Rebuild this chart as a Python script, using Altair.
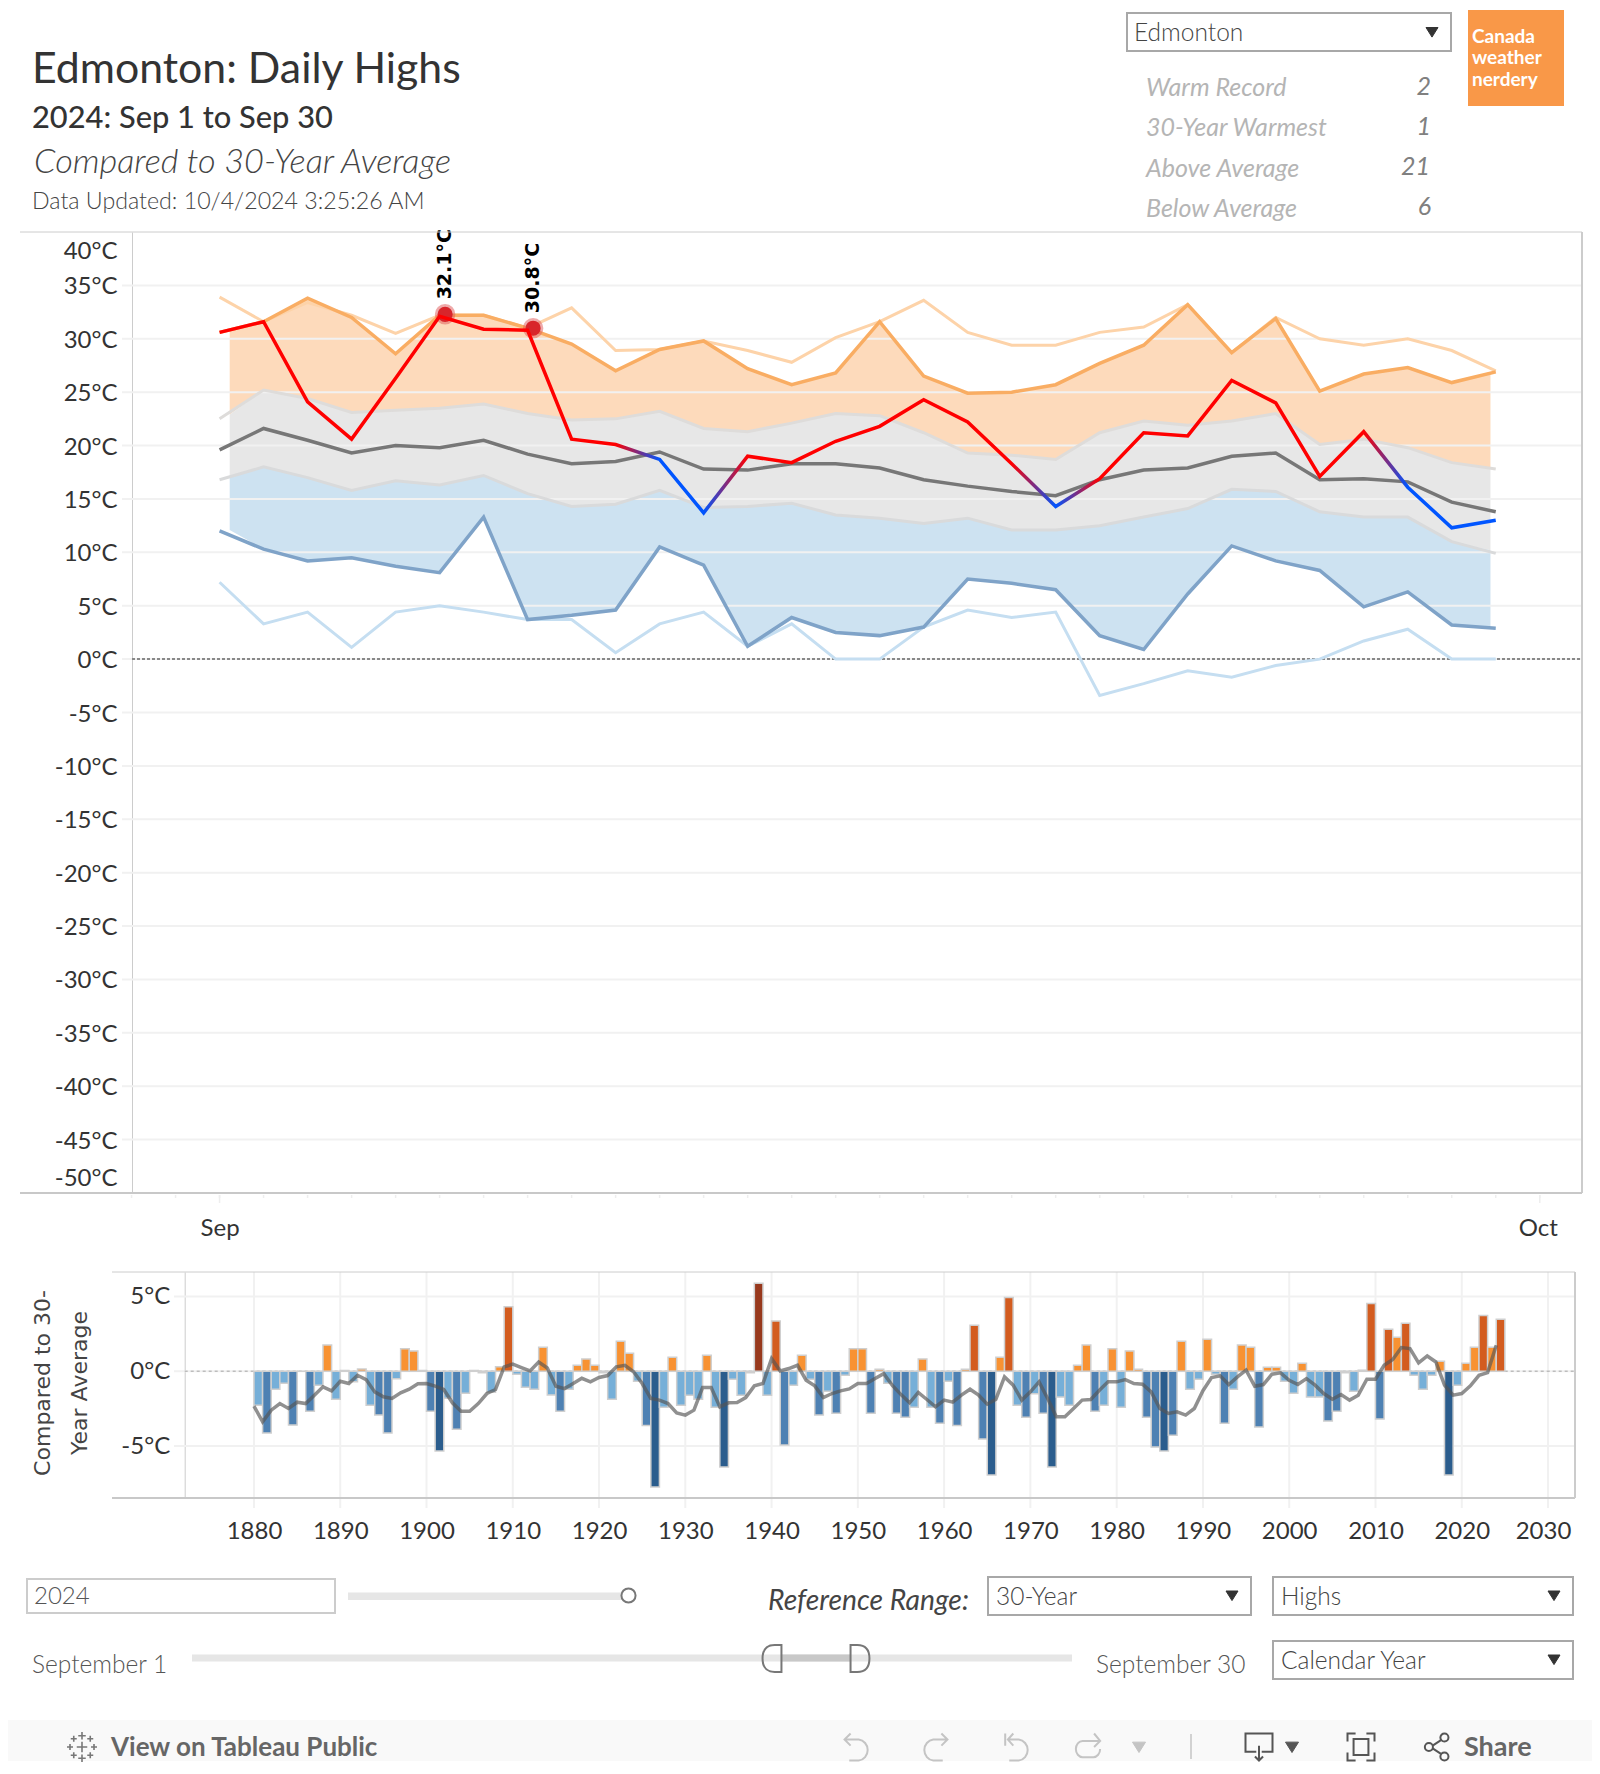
import altair as alt
import pandas as pd

# ---------- daily series (Sep 1..Sep 30), degrees C ----------
DAYS = list(range(1, 31))
RECORD_HIGH = [33.9,31.6,33.4,32.2,30.5,32.2,32.2,31.0,32.9,28.9,29.0,29.8,28.9,27.8,30.1,31.6,33.6,30.6,29.4,29.4,30.6,31.1,33.2,28.7,32.0,30.0,29.4,30.0,28.9,27.0]
MAX_30 = [30.6,31.6,33.8,32.0,28.6,32.2,32.2,31.0,29.5,27.0,29.0,29.8,27.2,25.7,26.8,31.6,26.5,24.9,25.0,25.7,27.7,29.4,33.2,28.7,31.9,25.1,26.7,27.3,25.9,26.9]
UPPER = [22.5,25.2,24.4,23.1,23.3,23.5,23.9,23.0,22.4,22.5,23.2,21.6,21.3,22.1,23.0,22.8,21.2,19.3,19.1,18.7,21.2,22.3,21.9,22.3,23.0,20.1,20.6,19.8,18.4,17.8]
AVERAGE = [19.6,21.6,20.5,19.3,20.0,19.8,20.5,19.2,18.3,18.5,19.4,17.8,17.7,18.3,18.3,17.9,16.8,16.2,15.7,15.3,16.8,17.7,17.9,19.0,19.3,16.8,16.9,16.6,14.7,13.8]
LOWER = [16.8,18.0,17.0,15.8,16.7,16.3,17.2,15.5,14.3,14.5,15.8,14.2,14.3,14.6,13.5,13.2,12.7,13.2,12.1,12.1,12.5,13.3,14.1,15.9,15.7,13.8,13.3,13.3,11.0,9.9]
MIN_30 = [12.0,10.3,9.2,9.5,8.7,8.1,13.3,3.7,4.1,4.6,10.5,8.8,1.2,3.9,2.5,2.2,3.0,7.5,7.1,6.5,2.2,0.9,6.1,10.6,9.2,8.3,4.9,6.3,3.2,2.9]
RECORD_LOW = [7.2,3.3,4.4,1.1,4.4,5.0,4.4,3.7,3.7,0.6,3.3,4.4,1.2,3.3,0,0,3.0,4.6,3.9,4.4,-3.4,-2.3,-1.1,-1.7,-0.6,0,1.7,2.8,0,0]
ACTUAL = [30.6,31.6,24.1,20.6,26.3,32.1,30.9,30.8,20.6,20.1,18.7,13.7,19.0,18.4,20.4,21.8,24.3,22.2,18.3,14.3,16.9,21.2,20.9,26.1,24.0,17.1,21.3,16.1,12.3,13.0]
RECORD_DAYS = [6, 8]
RECORD_VALUES = [32.1, 30.8]
RECORD_LABELS = ["32.1°C", "30.8°C"]

# reference bands stop a little inside the first and last day
BAND_DAYS = [1.23] + DAYS[1:-1] + [29.88]
BAND_TOP = [30.7] + MAX_30[1:-1] + [26.7]
BAND_UPPER = [22.9] + UPPER[1:-1] + [17.8]
BAND_LOWER = [17.1] + LOWER[1:-1] + [10.2]
BAND_BOTTOM = [12.1] + MIN_30[1:-1] + [3.0]

# ---------- yearly anomaly ----------
FIRST_YEAR = 1880
ANOMALY = [-2.27,-4.13,-1.2,-0.8,-3.6,0,-2.67,-0.93,1.75,-1.87,0.05,-0.7,0.15,-2.27,-2.93,-4.13,-0.5,1.5,1.36,0.05,
 -2.67,-5.33,-1.8,-3.87,-1.47,0.05,-0.1,-1.4,0.3,4.3,-0.2,-1.07,-1.2,1.6,-1.58,-2.67,-1.2,0.4,0.82,0.4,
 -0.1,-1.87,2.0,1.2,-0.67,-3.62,-7.73,-2.4,0.93,-2.27,-1.6,-1.87,1.07,-2.4,-6.4,-0.53,-1.6,-0.1,5.87,-1.6,
 3.36,-4.93,-0.93,1.07,-0.53,-2.93,-1.33,-2.8,-0.27,1.5,1.5,-2.8,0.13,-0.8,-2.8,-3.07,-2.4,0.82,-2.4,-3.47,
 -0.67,-3.62,0.13,3.07,-4.53,-6.93,0.93,4.93,-2.27,-3.07,-1.5,-2.8,-6.4,-1.73,-2.27,0.4,1.75,-2.67,-2.27,1.5,
 -2.4,1.36,0.13,-3.07,-5.07,-5.33,-4.27,2.0,-1.2,-0.53,2.13,-0.2,-3.47,-1.2,1.75,1.6,-3.73,0.27,0.27,-0.67,
 -1.47,0.53,-1.73,-1.73,-3.33,-2.67,-0.1,-1.33,0.07,4.53,-3.2,2.8,2.27,3.2,-0.27,-1.2,-0.27,0.67,-6.93,-0.93,
 0.53,1.6,3.73,1.6,3.47]
SMOOTH = [-2.33,-3.38,-2.6,-2.16,-2.49,-2.07,-2.16,-1.6,-1.04,-1.31,-0.67,-0.82,-0.27,-0.56,-1.38,-1.71,-1.82,-1.44,-1.2,-0.84,
 -0.82,-1.0,-1.22,-2.11,-2.67,-2.67,-2.16,-1.49,-1.22,0.29,0.47,0.24,0.02,0.62,0.22,-1.0,-1.16,-0.82,-0.47,-0.71,
 -0.42,-0.29,0.29,0.4,-0.04,-0.82,-1.82,-1.93,-2.16,-2.78,-2.93,-2.6,-1.09,-1.09,-2.38,-2.11,-2.09,-1.76,-0.98,-0.82,
 0.84,0.02,0.18,0.4,-0.6,-0.98,-1.76,-1.49,-1.31,-1.18,-0.82,-0.82,-0.49,-0.16,-0.95,-1.56,-2.11,-1.42,-1.89,-2.38,
 -1.93,-2.07,-1.6,-1.2,-1.6,-2.2,-1.87,-0.38,-0.93,-1.93,-1.38,-0.71,-1.82,-3.04,-3.04,-2.49,-1.93,-1.89,-1.27,-0.71,
 -0.71,-0.56,-0.82,-0.87,-1.38,-2.49,-2.82,-2.71,-2.93,-2.49,-1.3,-0.42,-0.31,-0.89,-0.38,0.07,-1.0,-0.89,-0.2,-0.11,
 -0.6,-0.89,-0.49,-0.93,-1.49,-1.87,-1.56,-1.93,-1.6,-0.53,-0.53,0.4,0.78,1.58,1.51,0.56,1.02,0.62,-0.93,-1.6,
 -1.49,-0.98,-0.27,-0.09,1.73]
YEARS = [FIRST_YEAR + i for i in range(len(ANOMALY))]

# ---------- tick lists ----------
MAIN_TICKS = list(range(-50, 41, 5))
MAIN_GRID = list(range(-45, 36, 5))
MONTH_TICKS = [1, 31]
DAY_TICKS = list(range(-1, 32))
BAR_TICKS = [-5, 0, 5]
DECADES = list(range(1880, 2031, 10))

# ---------- text ----------
TITLE = "Edmonton: Daily Highs"
SUBTITLE = "2024: Sep 1 to Sep 30"
COMPARED = "Compared to 30-Year Average"
UPDATED = "Data Updated: 10/4/2024 3:25:26 AM"
CITY = "Edmonton"
STAT_NAMES = ["Warm Record", "30-Year Warmest", "Above Average", "Below Average"]
STAT_VALUES = ["2", "1", "21", "6"]
LOGO = ["Canada", "weather", "nerdery"]
YEAR_TITLE = ["Compared to 30-", "Year Average"]

FONT = "Lato"
HA = 1264   # panel A: page y 8..1272
HB = 489    # panel B: page y 1272..1761
W = 1584
XA, YA = 8, 8
XB, YB = 8, 1272


def txt(s, x, y, size, color="#333333", ox=XA, oy=YA, **kw):
    opts = dict(align="left", baseline="alphabetic", font=FONT, fontSize=size, color=color)
    opts.update(kw)
    return alt.Chart(alt.Data(values=[{"t": s}])).mark_text(**opts).encode(
        x=alt.value(x - ox), y=alt.value(y - oy), text="t:N")


def rect(x0, x1, y0, y1, fill="#ffffff", stroke=None, sw=2, ox=XA, oy=YA):
    opts = dict(fill=fill)
    if stroke:
        opts.update(stroke=stroke, strokeWidth=sw)
    return alt.Chart(alt.Data(values=[{"a": 1}])).mark_rect(**opts).encode(
        x=alt.value(x0 - ox), x2=alt.value(x1 - ox), y=alt.value(y0 - oy), y2=alt.value(y1 - oy))


def hline(x0, x1, y, color, sw=1, ox=XA, oy=YA, **kw):
    return alt.Chart(alt.Data(values=[{"a": 1}])).mark_rule(color=color, strokeWidth=sw, **kw).encode(
        x=alt.value(x0 - ox), x2=alt.value(x1 - ox), y=alt.value(y - oy))


def vline(x, y0, y1, color, sw=1, ox=XA, oy=YA):
    return alt.Chart(alt.Data(values=[{"a": 1}])).mark_rule(color=color, strokeWidth=sw).encode(
        x=alt.value(x - ox), y=alt.value(y0 - oy), y2=alt.value(y1 - oy))


def icon(path, x, y, px, color, filled=False, sw=2, ox=XB, oy=YB):
    return alt.Chart(alt.Data(values=[{"a": 1}])).mark_point(
        shape=path, size=px * px, filled=filled, stroke=color, strokeWidth=sw,
        fill=color if filled else "transparent", opacity=1).encode(
        x=alt.value(x - ox), y=alt.value(y - oy))


TRI = "M -1 -0.75 L 1 -0.75 L 0 0.85 Z"
LABEL = dict(labelFont=FONT, labelFontSize=24, labelColor="#333333", labelOverlap=False,
             labelFlush=False, labelBound=False, grid=False, ticks=False)

# ---------- panel A ----------
scale_x = alt.Scale(domain=[-0.99, 31.96], range=[132 - XA, 1582 - XA], nice=False, zero=False)
scale_y = alt.Scale(domain=[-50, 40], range=[1193 - YA, 232 - YA], nice=False, zero=False)
AXIS_X = alt.Axis(values=MONTH_TICKS, domain=False, offset=-(HA - (1193 - YA)), labelPadding=23,
                  labelOffset=alt.expr("datum.value == 31 ? -2 : 0"),
                  labelExpr="datum.value == 1 ? 'Sep' : 'Oct'", **LABEL)
AXIS_Y = alt.Axis(values=MAIN_TICKS, domain=True, domainColor="#cccccc", domainWidth=1, offset=-(132 - XA),
                  labelPadding=15, labelExpr="datum.value + '°C'",
                  labelOffset=alt.expr("datum.value == 40 ? 19 : datum.value == -50 ? -15 : 1.5"), **LABEL)
X = alt.X("day:Q", scale=scale_x, title=None, axis=AXIS_X)
Y = alt.Y("v:Q", scale=scale_y, title=None, axis=AXIS_Y)

df_band = pd.DataFrame({"day": BAND_DAYS, "top": BAND_TOP, "up": BAND_UPPER, "lo": BAND_LOWER, "bot": BAND_BOTTOM})


def area(hi, lo, color):
    return alt.Chart(df_band).mark_area(color=color, opacity=1).encode(
        x=X, y=alt.Y(f"{hi}:Q", scale=scale_y, title=None, axis=AXIS_Y), y2=alt.Y2(f"{lo}:Q"))


def series(vals, color, sw=3, days=DAYS):
    return alt.Chart(pd.DataFrame({"day": days, "v": vals})).mark_line(
        color=color, strokeWidth=sw).encode(x=X, y=Y)


def above(d):
    return ACTUAL[d] >= AVERAGE[d]


stops = [{"offset": d / 29, "color": "#ff0000" if above(d) else "#0055ff"} for d in range(30)]
actual_grad = {"gradient": "linear", "x1": 0, "x2": 1, "y1": 0, "y2": 0, "stops": stops}

grid_a = alt.Chart(pd.DataFrame({"v": MAIN_GRID})).mark_rule(color="#f1f1f1", strokeWidth=2).encode(
    y=Y, x=alt.value(122 - XA), x2=alt.value(1582 - XA))
zero_a = alt.Chart(pd.DataFrame({"v": [0]})).mark_rule(color="#666666", strokeWidth=1.5, strokeDash=[3, 2]).encode(
    y=Y, x=alt.value(132 - XA), x2=alt.value(1582 - XA))
small_ticks = alt.Chart(pd.DataFrame({"day": DAY_TICKS})).mark_rule(color="#eeeeee", strokeWidth=1.5).encode(
    x=X, y=alt.value(1195 - YA), y2=alt.value(1198 - YA))
long_ticks = alt.Chart(pd.DataFrame({"day": MONTH_TICKS})).mark_rule(color="#eeeeee", strokeWidth=1.5).encode(
    x=X, y=alt.value(1195 - YA), y2=alt.value(1203 - YA))

df_rec = pd.DataFrame({"day": RECORD_DAYS, "v": RECORD_VALUES, "t": RECORD_LABELS})
halo = alt.Chart(df_rec).mark_circle(color="#e05555", opacity=0.5, size=420, xOffset=5.5, yOffset=-2).encode(x=X, y=Y)
dot = alt.Chart(df_rec).mark_circle(color="#d8252b", opacity=1, size=230, xOffset=5.5, yOffset=-2).encode(x=X, y=Y)
rec_text = alt.Chart(df_rec).mark_text(angle=270, align="left", baseline="middle", dx=17, font="DejaVu Sans",
                                       fontWeight="bold", fontSize=19, color="#000000", xOffset=5.5).encode(
    x=X, y=Y, text="t:N")
actual_line = alt.Chart(pd.DataFrame({"day": DAYS, "v": ACTUAL})).mark_line(
    stroke=actual_grad, strokeWidth=3.5).encode(x=X, y=Y)

header = [
    txt(TITLE, 32, 83, 42.8, "#333333"),
    txt(SUBTITLE, 32, 128, 30.8, "#333333", fontWeight=500),
    txt(COMPARED, 34, 173, 34.3, "#444444", fontStyle="italic", fontWeight=300),
    txt(UPDATED, 32, 209, 23.2, "#444444", fontWeight=300),
    rect(1127, 1451, 13, 51, "#ffffff", "#a8a8a8", 2),
    txt(CITY, 1134, 41, 24.5, "#444444", fontWeight=300),
    icon(TRI, 1432, 32, 12, "#333333", True, 1, XA, YA),
    rect(1468, 1564, 10, 106, "#f99848"),
]
for s, yb, v, xr, yv in zip(STAT_NAMES, [96, 136, 177, 217], STAT_VALUES, [1431, 1431, 1430, 1431], [95, 135, 175, 215]):
    header.append(txt(s, 1146, yb, 25, "#b5b5b5", fontStyle="italic"))
    header.append(txt(v, xr, yv, 25, "#808080", fontStyle="italic", align="right"))
for s, yb in zip(LOGO, [43, 64, 86]):
    header.append(txt(s, 1472, yb, 19, "#ffffff", fontWeight="bold"))

frame_a = [
    hline(20, 1582, 232, "#cccccc", 1),
    vline(1582, 232, 1193, "#cccccc", 2),
    hline(20, 1582, 1193, "#c8c8c8", 2),
]

panel_a = alt.layer(
    area("top", "up", "#fddabb"), area("up", "lo", "#e7e7e7"), area("lo", "bot", "#cde2f1"),
    grid_a, zero_a, small_ticks, long_ticks,
    series(RECORD_HIGH, "#fdd3a9"), series(RECORD_LOW, "#c5def1"),
    series(UPPER, "#dedcda"), series(LOWER, "#d9dadb"),
    series(MAX_30, "#f9ad63", 3.5), series(MIN_30, "#7fa3c8", 3.5), series(AVERAGE, "#777777", 3.5),
    halo, dot, actual_line, rec_text,
    *frame_a, *header
).properties(width=W, height=HA)

# ---------- panel B ----------
BOTTOM = 1498
bx = alt.Scale(domain=[1871.97, 2033.07], range=[184.7 - XB, 1574.5 - XB], nice=False, zero=False)
by = alt.Scale(domain=[-8.47, 6.63], range=[BOTTOM - YB, 1272 - YB], nice=False, zero=False)
AXIS_BX = alt.Axis(values=DECADES, domain=False, offset=-(HB - (BOTTOM - YB)), format="d", labelPadding=21,
                   labelOffset=alt.expr("datum.value == 2030 ? -5 : 0"), **LABEL)
AXIS_BY = alt.Axis(values=BAR_TICKS, domain=True, domainColor="#cccccc", domainWidth=1, offset=-(184.7 - XB),
                   labelPadding=15, labelExpr="datum.value + '°C'", **LABEL)
BX = alt.X("year:Q", scale=bx, title=None, axis=AXIS_BX)
BY = alt.Y("v:Q", scale=by, title=None, axis=AXIS_BY)

df_bars = pd.DataFrame({"year": YEARS, "end": [y + 1 for y in YEARS], "v": ANOMALY, "z": [0] * len(YEARS)})
bars = alt.Chart(df_bars).mark_rect(stroke="#cfcfcf", strokeWidth=1.5).encode(
    x=BX, x2=alt.X2("end:Q"), y=BY, y2=alt.Y2("z:Q"),
    fill=alt.Fill("v:Q", legend=None, scale=alt.Scale(
        type="threshold", domain=[-5.2, -2.5, 0, 2.5, 5.5],
        range=["#2b5d8d", "#4e81b3", "#76afd8", "#f89232", "#d35c1f", "#98391d"])))
smooth = alt.Chart(pd.DataFrame({"year": YEARS, "v": SMOOTH})).mark_line(
    color="#555555", opacity=0.65, strokeWidth=3.5).encode(x=BX, y=BY)

grid_bx = alt.Chart(pd.DataFrame({"year": DECADES})).mark_rule(color="#f1f1f1", strokeWidth=2).encode(
    x=BX, y=alt.value(0), y2=alt.value(1508 - YB))
grid_by = alt.Chart(pd.DataFrame({"v": BAR_TICKS})).mark_rule(color="#f1f1f1", strokeWidth=2).encode(
    y=BY, x=alt.value(174 - XB), x2=alt.value(1574 - XB))
zero_b = alt.Chart(pd.DataFrame({"v": [0]})).mark_rule(color="#bdbdbd", strokeWidth=1.5, strokeDash=[3, 3]).encode(
    y=BY, x=alt.value(184.7 - XB), x2=alt.value(1574 - XB))


def btxt(s, x, y, size, color="#555555", **kw):
    return txt(s, x, y, size, color, XB, YB, **kw)


def brect(x0, x1, y0, y1, fill="#ffffff", stroke=None, sw=2):
    return rect(x0, x1, y0, y1, fill, stroke, sw, XB, YB)


LEFT_HANDLE = "M 0.7 -1 L 0.2 -1 C -0.5 -1 -0.7 -0.5 -0.7 0 C -0.7 0.5 -0.5 1 0.2 1 L 0.7 1 Z"
RIGHT_HANDLE = "M -0.7 -1 L -0.2 -1 C 0.5 -1 0.7 -0.5 0.7 0 C 0.7 0.5 0.5 1 -0.2 1 L -0.7 1 Z"
UNDO = "M -0.85 -0.55 L 0.2 -0.55 A 0.75 0.78 0 0 1 0.2 1 L -0.5 1 M -0.4 -1 L -0.85 -0.55 L -0.4 -0.1"
REDO = "M 0.85 -0.55 L -0.2 -0.55 A 0.75 0.78 0 0 0 -0.2 1 L 0.5 1 M 0.4 -1 L 0.85 -0.55 L 0.4 -0.1"
REVERT = "M -0.8 -1 L -0.8 -0.1 M -0.6 -0.55 L 0.2 -0.55 A 0.75 0.78 0 0 1 0.2 1 L -0.5 1 M -0.2 -1 L -0.6 -0.55 L -0.2 -0.1"
REFRESH = "M 0.8 -0.45 L -0.4 -0.45 A 0.5 0.6 0 0 0 -0.4 0.75 L 0.4 0.75 A 0.5 0.6 0 0 0 0.9 0.15 M 0.45 -1 L 0.9 -0.45 L 0.45 0"
DOWNLOAD = "M -0.2 0.35 L -1 0.35 L -1 -1 L 1 -1 L 1 0.35 L 0.2 0.35 M 0 -0.1 L 0 1 M -0.3 0.7 L 0 1 L 0.3 0.7"
FULL = "M -0.4 -1 L -1 -1 L -1 -0.4 M 0.4 -1 L 1 -1 L 1 -0.4 M -0.4 1 L -1 1 L -1 0.4 M 0.4 1 L 1 1 L 1 0.4 M -0.55 -0.6 L 0.55 -0.6 L 0.55 0.6 L -0.55 0.6 Z"
SHARE = ("M -0.35 -0.08 L 0.35 -0.55 M -0.35 0.08 L 0.35 0.55 "
         "M 0.85 -0.7 A 0.3 0.3 0 1 0 0.25 -0.7 A 0.3 0.3 0 1 0 0.85 -0.7 "
         "M 0.85 0.7 A 0.3 0.3 0 1 0 0.25 0.7 A 0.3 0.3 0 1 0 0.85 0.7 "
         "M -0.3 0 A 0.3 0.3 0 1 0 -0.9 0 A 0.3 0.3 0 1 0 -0.3 0")
TAB = ("M 0 -1 L 0 -0.5 M -0.25 -0.75 L 0.25 -0.75 M 0 0.5 L 0 1 M -0.25 0.75 L 0.25 0.75 "
       "M -1 0 L -0.6 0 M -0.8 -0.2 L -0.8 0.2 M 0.6 0 L 1 0 M 0.8 -0.2 L 0.8 0.2 "
       "M 0 -0.35 L 0 0.35 M -0.35 0 L 0.35 0 "
       "M -0.55 -0.75 L -0.55 -0.35 M -0.75 -0.55 L -0.35 -0.55 M 0.55 -0.75 L 0.55 -0.35 M 0.35 -0.55 L 0.75 -0.55 "
       "M -0.55 0.35 L -0.55 0.75 M -0.75 0.55 L -0.35 0.55 M 0.55 0.35 L 0.55 0.75 M 0.35 0.55 L 0.75 0.55")

FOOT_R = XB + W
ICON_Y = 1747

controls = [
    btxt(YEAR_TITLE[0], 50, 1383, 22, "#444444", font="DejaVu Sans", angle=270, align="center"),
    btxt(YEAR_TITLE[1], 87, 1383, 22, "#444444", font="DejaVu Sans", angle=270, align="center"),
    brect(27, 335, 1579, 1613, "#ffffff", "#cccccc", 2),
    btxt("2024", 34, 1604, 24, "#555555", fontWeight=300),
    brect(348, 622, 1592.5, 1600, "#e6e6e6"),
    alt.Chart(alt.Data(values=[{"a": 1}])).mark_circle(size=200, fill="#ffffff", stroke="#777777", strokeWidth=2, opacity=1).encode(
        x=alt.value(628.5 - XB), y=alt.value(1595.5 - YB)),
    btxt("Reference Range:", 768, 1610, 28.3, "#444444", fontStyle="italic"),
    brect(988, 1251, 1577, 1615, "#ffffff", "#a8a8a8", 2),
    btxt("30-Year", 996, 1605, 24.5, "#444444", fontWeight=300),
    icon(TRI, 1232, 1595.5, 12, "#333333", True, 1),
    brect(1273, 1573, 1577, 1615, "#ffffff", "#a8a8a8", 2),
    btxt("Highs", 1281, 1605, 24.5, "#444444", fontWeight=300),
    icon(TRI, 1554, 1595.5, 12, "#333333", True, 1),
    brect(1273, 1573, 1641, 1679, "#ffffff", "#a8a8a8", 2),
    btxt("Calendar Year", 1281, 1669, 24.5, "#444444", fontWeight=300),
    icon(TRI, 1554, 1659.5, 12, "#333333", True, 1),
    btxt("September 1", 32, 1673, 24.5, "#555555", fontWeight=300),
    btxt("September 30", 1096, 1673, 24.5, "#555555", fontWeight=300),
    brect(192, 1072, 1654.5, 1661.5, "#e6e6e6"),
    brect(782, 851, 1654.5, 1661.5, "#c8c8c8"),
    icon(LEFT_HANDLE, 772, 1658.5, 27, "#777777", False, 2),
    icon(RIGHT_HANDLE, 860, 1658.5, 27, "#777777", False, 2),
    brect(8, FOOT_R, 1720, 1761, "#f9f9f9"),
    icon(TAB, 82, ICON_Y, 30, "#777777", False, 1.6),
    btxt("View on Tableau Public", 111, 1756, 26, "#666666", fontWeight="bold"),
    icon(UNDO, 856, ICON_Y, 27, "#c4c4c4"),
    icon(REDO, 936, ICON_Y, 27, "#c4c4c4"),
    icon(REVERT, 1016, ICON_Y, 27, "#c4c4c4"),
    icon(REFRESH, 1088, ICON_Y, 27, "#c4c4c4"),
    icon(TRI, 1139, ICON_Y, 13, "#c4c4c4", True, 1),
    vline(1191, 1734, 1759, "#c4c4c4", 1.5, XB, YB),
    icon(DOWNLOAD, 1259, ICON_Y, 27, "#555555"),
    icon(TRI, 1292, ICON_Y, 13, "#555555", True, 1),
    icon(FULL, 1361, ICON_Y, 27, "#555555"),
    icon(SHARE, 1437, ICON_Y, 27, "#555555"),
    btxt("Share", 1464, 1756, 27, "#666666", fontWeight="bold"),
]

frame_b = [
    hline(112, 1575, 1272, "#cccccc", 1, XB, YB),
    hline(112, 1575, BOTTOM, "#c8c8c8", 2, XB, YB),
    vline(1575, 1272, BOTTOM, "#cccccc", 2, XB, YB),
]

panel_b = alt.layer(
    grid_bx, grid_by, zero_b, bars, smooth, *frame_b, *controls
).properties(width=W, height=HB)

chart = alt.vconcat(panel_a, panel_b, spacing=0, bounds="flush").properties(padding=0).configure_view(strokeWidth=0)

chart.save("out.html", embed_options={"renderer": "svg", "actions": False})
